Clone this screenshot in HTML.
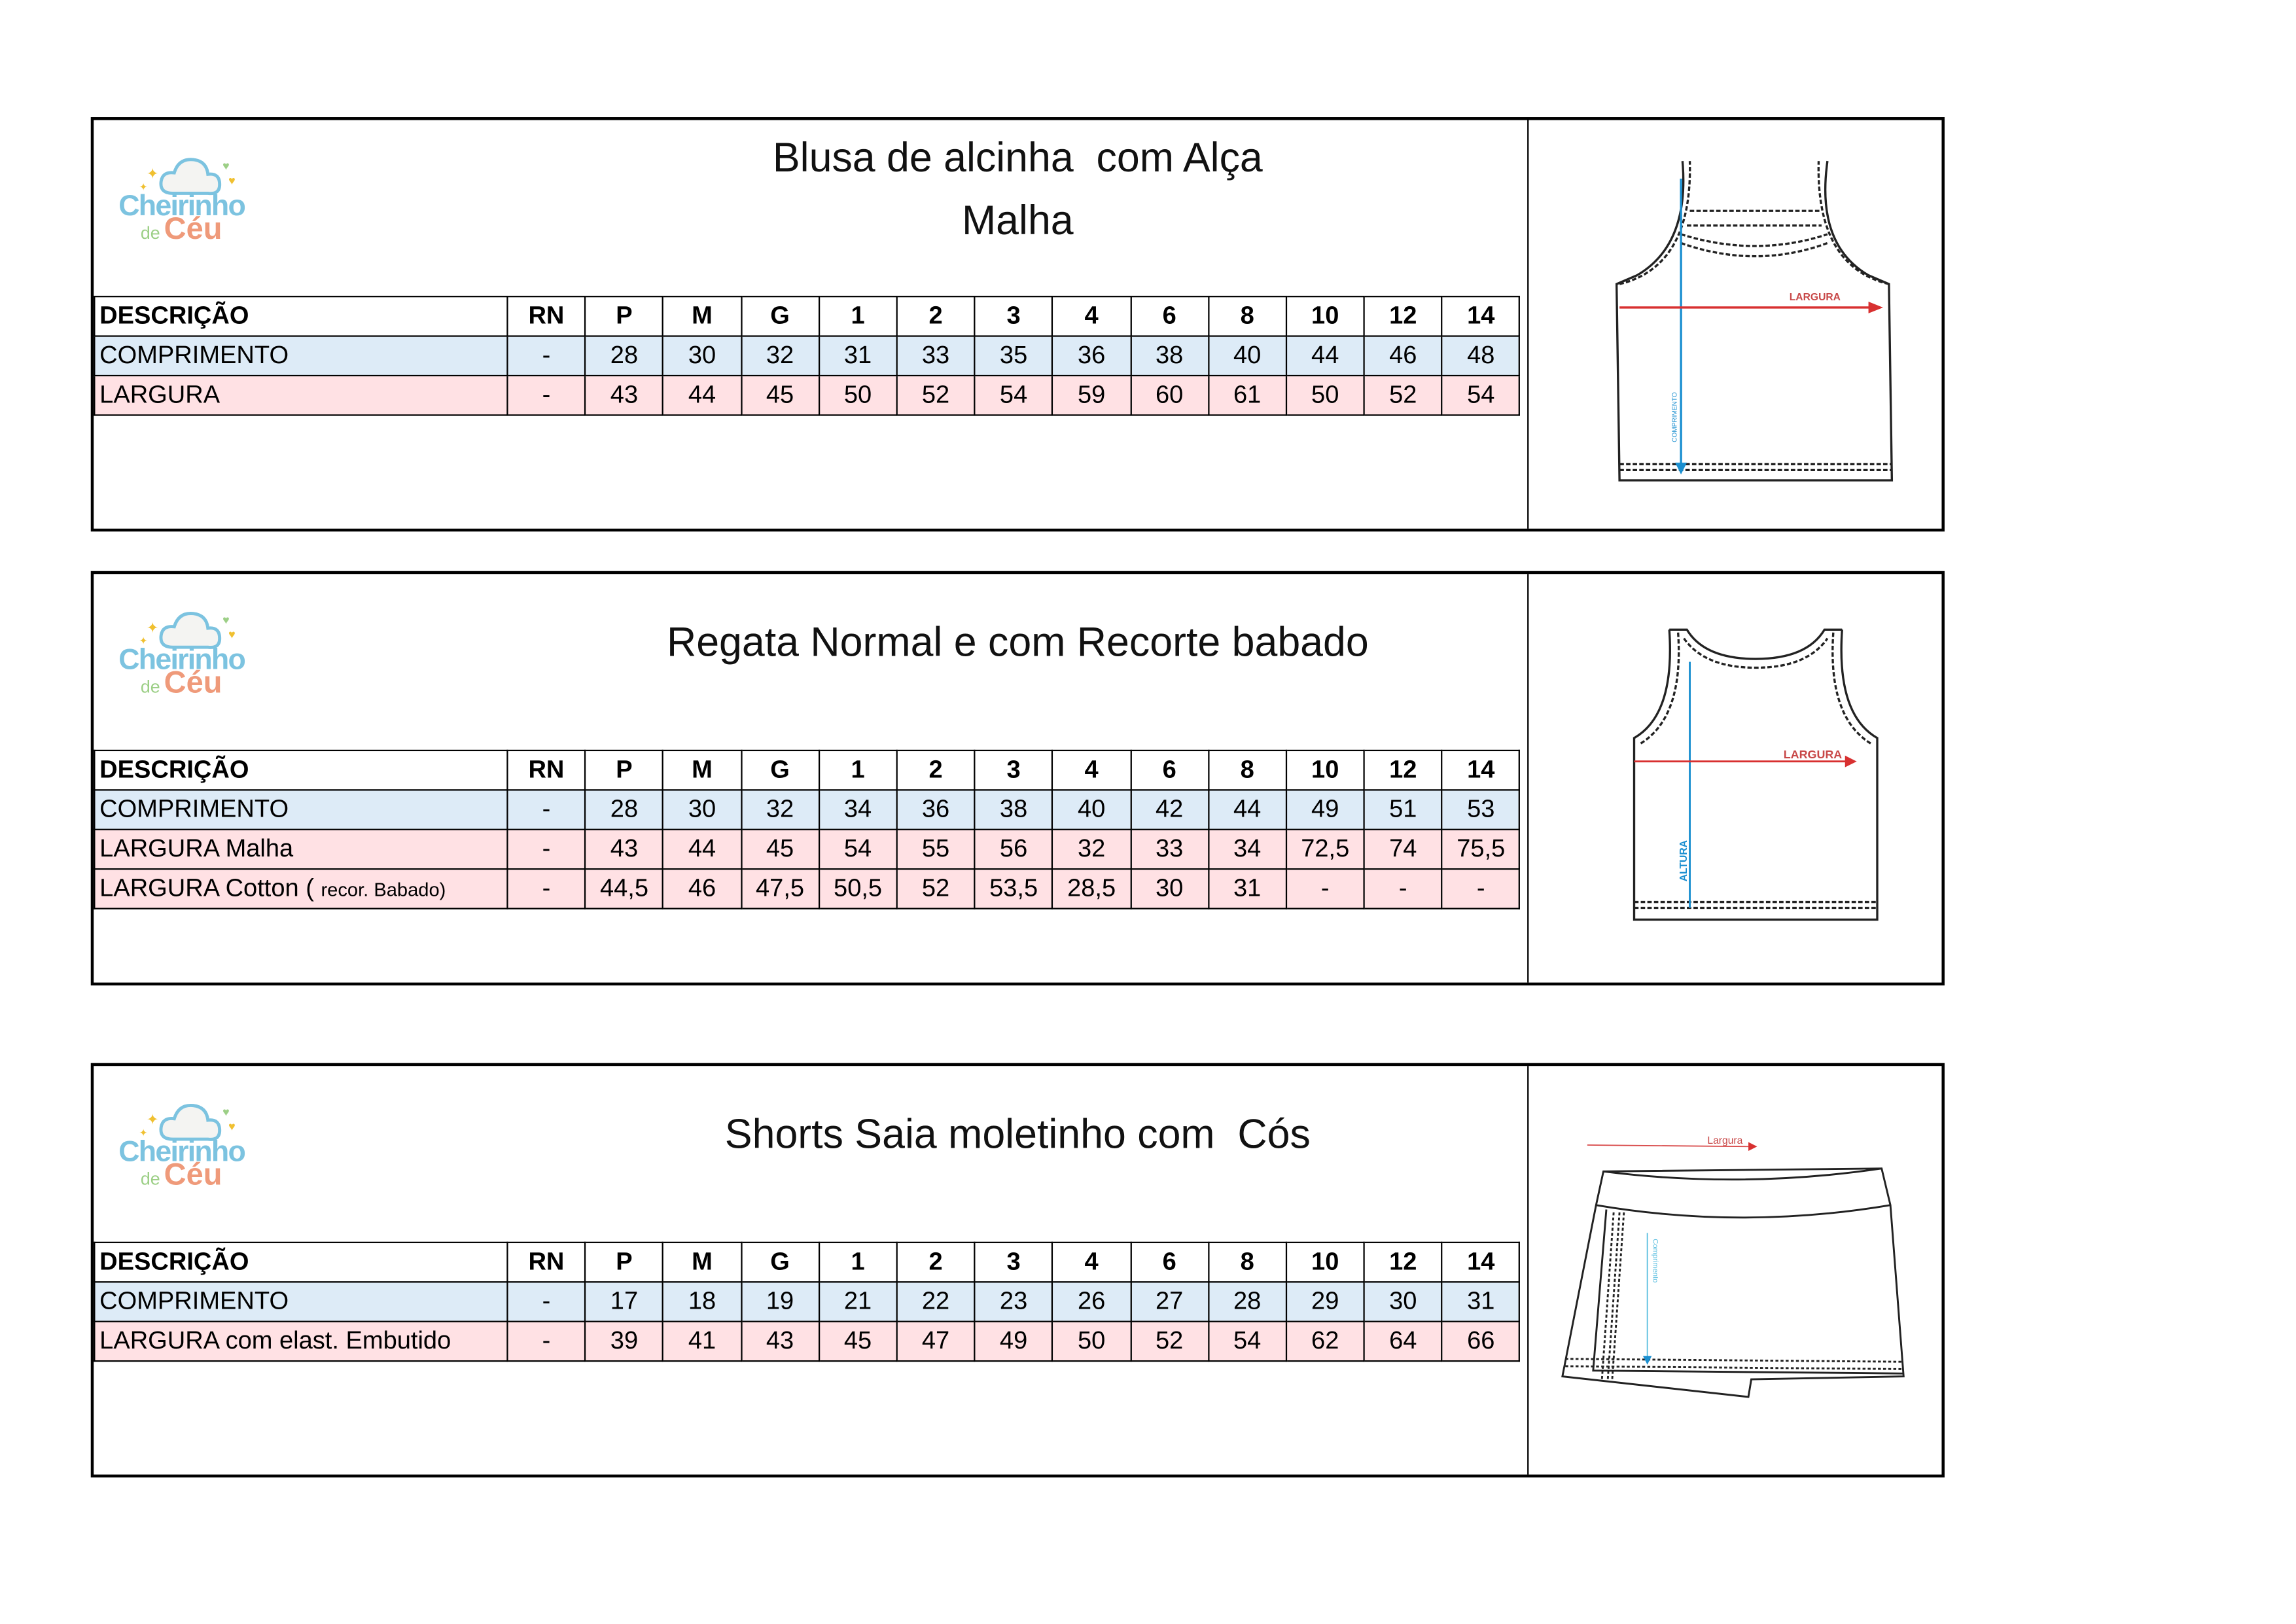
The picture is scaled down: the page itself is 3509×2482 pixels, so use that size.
<!DOCTYPE html>
<html><head><meta charset="utf-8">
<style>
html,body{margin:0;padding:0;background:#fff;}
body{width:3509px;height:2481px;overflow:hidden;position:relative;}
#w{position:absolute;left:0;top:0;width:1568px;height:1109px;transform:scale(2.2379);transform-origin:0 0;font-family:"Liberation Sans",sans-serif;}
.blk{position:absolute;left:62px;width:1266px;height:283px;border:2px solid #000;box-sizing:border-box;}
.div{position:absolute;left:979px;top:0;bottom:0;border-left:1.5px solid #000;}
.title{position:absolute;left:0;width:1262px;text-align:center;font-size:28px;line-height:42px;color:#111;}
table{position:absolute;left:0;border-collapse:collapse;table-layout:fixed;font-size:17px;}
tr{height:27px;}
td{border:1.5px solid #000;height:25px;padding:0;text-align:center;white-space:nowrap;overflow:hidden;}
td.d{text-align:left;padding-left:3px;width:278px;}
td.n{width:52.2px;}
tr.h td{font-weight:bold;}
tr.b td{background:#ddebf7;}
tr.p td{background:#ffe1e4;}
.logo{position:absolute;left:14px;top:18px;width:100px;height:80px;}
.logo .c1{position:absolute;left:3px;top:30px;font-size:20px;font-weight:bold;color:#7cc3e0;letter-spacing:-0.8px;}
.logo .c2{position:absolute;left:18px;top:52px;font-size:12px;color:#9ccf86;}
.logo .c3{position:absolute;left:34px;top:45px;font-size:21px;font-weight:bold;color:#ef9a7a;}
.logo svg{position:absolute;left:2px;top:4px;}
</style></head><body><div id="w">

<!-- Block 1 -->
<div class="blk" style="top:80px;">
  <div class="logo"><svg width="100" height="32"><path d="M38 28 q-9 0 -8 -8 q1 -7 9 -6 q3 -10 13 -9 q9 1 10 10 q8 -1 8 7 q0 7 -8 6 z" fill="#f4f4f2" stroke="#7cc3e0" stroke-width="2.2"/><text x="20" y="18" font-size="10" fill="#f0c030">✦</text><text x="15" y="26" font-size="7" fill="#f0c030">✦</text><text x="72" y="12" font-size="8" fill="#9ccf86">♥</text><text x="76" y="22" font-size="8" fill="#f0c030">♥</text></svg><div class="c1">Cheirinho</div><div class="c2">de</div><div class="c3">Céu</div></div>
  <div class="title" style="top:5px;">Blusa de alcinha&nbsp; com Alça</div>
  <div class="title" style="top:48px;">Malha</div>
  <table style="top:120px;">
    <tr class="h"><td class="d">DESCRIÇÃO</td><td class="n">RN</td><td class="n">P</td><td class="n">M</td><td class="n">G</td><td class="n">1</td><td class="n">2</td><td class="n">3</td><td class="n">4</td><td class="n">6</td><td class="n">8</td><td class="n">10</td><td class="n">12</td><td class="n">14</td></tr>
    <tr class="b"><td class="d">COMPRIMENTO</td><td>-</td><td>28</td><td>30</td><td>32</td><td>31</td><td>33</td><td>35</td><td>36</td><td>38</td><td>40</td><td>44</td><td>46</td><td>48</td></tr>
    <tr class="p"><td class="d">LARGURA</td><td>-</td><td>43</td><td>44</td><td>45</td><td>50</td><td>52</td><td>54</td><td>59</td><td>60</td><td>61</td><td>50</td><td>52</td><td>54</td></tr>
  </table>
  <div class="div"></div>
  <svg style="position:absolute;left:980px;top:0" width="284" height="280">
    <g fill="none" stroke="#222" stroke-width="1.5">
      <path d="M74 106 L60 112 L62 246 L248 246 L246 112 L232 106"/>
      <path d="M74 106 Q110 85 105 28 M232 106 Q196 85 204 28"/>
      <path d="M62 112 Q112 100 110 28 M246 112 Q196 100 198 28" stroke-dasharray="3 1.5"/>
      <path d="M110 62 L200 62 M108 72 L200 72 M104 78 Q155 94 204 78 M104 84 Q155 102 204 84" stroke-dasharray="3 1.5"/>
      <path d="M62 235 L248 235 M62 239 L248 239" stroke-dasharray="3 1.5"/>
    </g>
    <line x1="104" y1="40" x2="104" y2="236" stroke="#1a8fd0" stroke-width="1.5"/>
    <path d="M100 234 L108 234 L104 242 z" fill="#1a8fd0"/>
    <line x1="62" y1="128" x2="236" y2="128" stroke="#d83030" stroke-width="1.5"/>
    <path d="M232 124 L242 128 L232 132 z" fill="#d83030"/>
    <text x="178" y="123" font-size="7" font-weight="bold" fill="#c84848">LARGURA</text>
    <text transform="translate(101 220) rotate(-90)" font-size="4.5" fill="#1a8fd0">COMPRIMENTO</text>
  </svg>
</div>

<!-- Block 2 -->
<div class="blk" style="top:390px;">
  <div class="logo"><svg width="100" height="32"><path d="M38 28 q-9 0 -8 -8 q1 -7 9 -6 q3 -10 13 -9 q9 1 10 10 q8 -1 8 7 q0 7 -8 6 z" fill="#f4f4f2" stroke="#7cc3e0" stroke-width="2.2"/><text x="20" y="18" font-size="10" fill="#f0c030">✦</text><text x="15" y="26" font-size="7" fill="#f0c030">✦</text><text x="72" y="12" font-size="8" fill="#9ccf86">♥</text><text x="76" y="22" font-size="8" fill="#f0c030">♥</text></svg><div class="c1">Cheirinho</div><div class="c2">de</div><div class="c3">Céu</div></div>
  <div class="title" style="top:26px;">Regata Normal e com Recorte babado</div>
  <table style="top:120px;">
    <tr class="h"><td class="d">DESCRIÇÃO</td><td class="n">RN</td><td class="n">P</td><td class="n">M</td><td class="n">G</td><td class="n">1</td><td class="n">2</td><td class="n">3</td><td class="n">4</td><td class="n">6</td><td class="n">8</td><td class="n">10</td><td class="n">12</td><td class="n">14</td></tr>
    <tr class="b"><td class="d">COMPRIMENTO</td><td>-</td><td>28</td><td>30</td><td>32</td><td>34</td><td>36</td><td>38</td><td>40</td><td>42</td><td>44</td><td>49</td><td>51</td><td>53</td></tr>
    <tr class="p"><td class="d">LARGURA Malha</td><td>-</td><td>43</td><td>44</td><td>45</td><td>54</td><td>55</td><td>56</td><td>32</td><td>33</td><td>34</td><td>72,5</td><td>74</td><td>75,5</td></tr>
    <tr class="p"><td class="d">LARGURA Cotton ( <span style="font-size:13px">recor. Babado)</span></td><td>-</td><td>44,5</td><td>46</td><td>47,5</td><td>50,5</td><td>52</td><td>53,5</td><td>28,5</td><td>30</td><td>31</td><td>-</td><td>-</td><td>-</td></tr>
  </table>
  <div class="div"></div>
  <svg style="position:absolute;left:980px;top:0" width="284" height="280">
    <g fill="none" stroke="#222" stroke-width="1.5">
      <path d="M96 38 Q100 96 72 112 L72 236 L238 236 L238 112 Q210 96 214 38"/>
      <path d="M96 38 L108 38 Q120 58 155 58 Q190 58 202 38 L214 38"/>
      <path d="M102 40 Q106 98 76 116 M208 40 Q204 98 234 116 M106 44 Q120 64 155 64 Q190 64 204 44" stroke-dasharray="3 1.5"/>
      <path d="M72 224 L238 224 M72 228 L238 228" stroke-dasharray="3 1.5"/>
    </g>
    <line x1="110" y1="60" x2="110" y2="228" stroke="#1a8fd0" stroke-width="1.3"/>
    <line x1="72" y1="128" x2="220" y2="128" stroke="#d83030" stroke-width="1.3"/>
    <path d="M216 124 L224 128 L216 132 z" fill="#d83030"/>
    <text x="174" y="126" font-size="8" font-weight="bold" fill="#c84848">LARGURA</text>
    <text transform="translate(108 210) rotate(-90)" font-size="7" font-weight="bold" fill="#1a8fd0">ALTURA</text>
  </svg>
</div>

<!-- Block 3 -->
<div class="blk" style="top:726px;">
  <div class="logo"><svg width="100" height="32"><path d="M38 28 q-9 0 -8 -8 q1 -7 9 -6 q3 -10 13 -9 q9 1 10 10 q8 -1 8 7 q0 7 -8 6 z" fill="#f4f4f2" stroke="#7cc3e0" stroke-width="2.2"/><text x="20" y="18" font-size="10" fill="#f0c030">✦</text><text x="15" y="26" font-size="7" fill="#f0c030">✦</text><text x="72" y="12" font-size="8" fill="#9ccf86">♥</text><text x="76" y="22" font-size="8" fill="#f0c030">♥</text></svg><div class="c1">Cheirinho</div><div class="c2">de</div><div class="c3">Céu</div></div>
  <div class="title" style="top:26px;">Shorts Saia moletinho com&nbsp; Cós</div>
  <table style="top:120px;">
    <tr class="h"><td class="d">DESCRIÇÃO</td><td class="n">RN</td><td class="n">P</td><td class="n">M</td><td class="n">G</td><td class="n">1</td><td class="n">2</td><td class="n">3</td><td class="n">4</td><td class="n">6</td><td class="n">8</td><td class="n">10</td><td class="n">12</td><td class="n">14</td></tr>
    <tr class="b"><td class="d">COMPRIMENTO</td><td>-</td><td>17</td><td>18</td><td>19</td><td>21</td><td>22</td><td>23</td><td>26</td><td>27</td><td>28</td><td>29</td><td>30</td><td>31</td></tr>
    <tr class="p"><td class="d">LARGURA com elast. Embutido</td><td>-</td><td>39</td><td>41</td><td>43</td><td>45</td><td>47</td><td>49</td><td>50</td><td>52</td><td>54</td><td>62</td><td>64</td><td>66</td></tr>
  </table>
  <div class="div"></div>
  <svg style="position:absolute;left:980px;top:0" width="284" height="280">
    <g fill="none" stroke="#222" stroke-width="1.3">
      <path d="M51 72 L241 70 L247 95 L256 212 L152 214 L150 226 L23 212 L46 95 z"/>
      <path d="M51 72 Q146 84 241 70"/>
      <path d="M46 95 Q146 112 247 95"/>
      <path d="M53 98 L44 208 L256 210"/>
      <path d="M58 100 L50 214 M62 100 L54 214 M65 100 L57 214 M25 200 L256 202 M25 205 L256 207" stroke-dasharray="2 1.5"/>
    </g>
    <line x1="40" y1="54" x2="150" y2="55" stroke="#d84848" stroke-width="0.8"/>
    <path d="M150 52 L156 55 L150 58 z" fill="#d83030"/>
    <text x="122" y="53" font-size="7" fill="#c84848">Largura</text>
    <line x1="81" y1="114" x2="81" y2="200" stroke="#5bbfe0" stroke-width="0.8"/>
    <path d="M78 198 L84 198 L81 204 z" fill="#1a8fd0"/>
    <text transform="translate(85 118) rotate(90)" font-size="5" fill="#5bbfe0">Comprimento</text>
  </svg>
</div>

</div></body></html>
